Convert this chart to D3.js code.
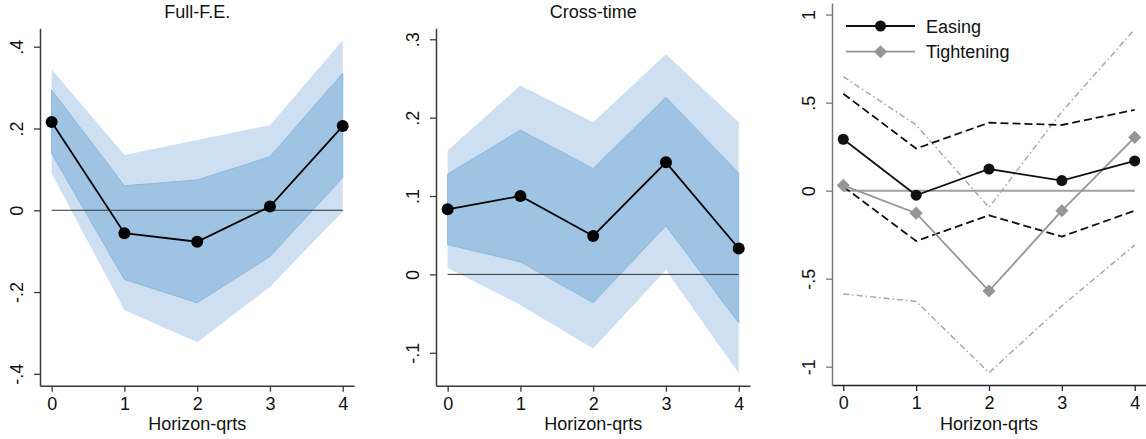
<!DOCTYPE html>
<html>
<head>
<meta charset="utf-8">
<script src="https://cdn.jsdelivr.net/npm/d3@7"></script>
<style>
  html, body { margin: 0; padding: 0; background: #fff; }
  svg { display: block; font-family: Arial, "Liberation Sans", sans-serif; }
</style>
</head>
<body>
<svg id="chart" width="1146" height="439"></svg>
<script>
// ---- data ----
const horizons = [0, 1, 2, 3, 4];
const xTickLabels = ["0", "1", "2", "3", "4"];

// Panel 1: Full-F.E.
const feCoef    = [0.216, -0.056, -0.077, 0.009, 0.206];
const feInnerHi = [0.294, 0.060, 0.074, 0.131, 0.335];
const feInnerLo = [0.139, -0.169, -0.226, -0.113, 0.080];
const feOuterHi = [0.345, 0.135, 0.172, 0.208, 0.416];
const feOuterLo = [0.090, -0.244, -0.323, -0.187, -0.003];
const feYTicks = [-0.4, -0.2, 0, 0.2, 0.4];
const feYLabels = ["-.4", "-.2", "0", ".2", ".4"];

// Panel 2: Cross-time
const ctCoef    = [0.083, 0.100, 0.049, 0.143, 0.033];
const ctInnerHi = [0.128, 0.184, 0.135, 0.226, 0.129];
const ctInnerLo = [0.038, 0.016, -0.036, 0.062, -0.062];
const ctOuterHi = [0.158, 0.241, 0.194, 0.281, 0.194];
const ctOuterLo = [0.0085, -0.039, -0.0945, 0.0055, -0.126];
const ctYTicks = [-0.1, 0, 0.1, 0.2, 0.3];
const ctYLabels = ["-.1", "0", ".1", ".2", ".3"];

// Panel 3: Easing vs Tightening
const easeCoef  = [0.292, -0.026, 0.123, 0.057, 0.169];
const easeHi    = [0.551, 0.239, 0.386, 0.373, 0.459];
const easeLo    = [0.023, -0.286, -0.140, -0.261, -0.114];
const tightCoef = [0.030, -0.128, -0.570, -0.114, 0.303];
const tightHi   = [0.648, 0.373, -0.095, 0.449, 0.917];
const tightLo   = [-0.587, -0.629, -1.034, -0.655, -0.309];
const asymYTicks = [-1, -0.5, 0, 0.5, 1];
const asymYLabels = ["-1", "-.5", "0", ".5", "1"];
const legendLabels = ["Easing", "Tightening"];

const titles = ["Full-F.E.", "Cross-time"];
const xTitle = "Horizon-qrts";

// ---- drawing ----
const svg = d3.select("#chart");
const LIGHT = "#cddff0", DARK = "#9fc3e3", DARKLINE = "#8cb8de";
const TICKFS = 18;

function makeAxes(g, xs, ys, yTicks, yLabels, opts) {
  const xAxis = d3.axisBottom(xs).tickValues(horizons)
    .tickFormat((d, i) => xTickLabels[i]).tickSizeInner(6).tickSizeOuter(0);
  const gx = g.append("g").attr("transform", `translate(0,${ys.range()[0]})`).call(xAxis)
    .attr("font-size", TICKFS).attr("font-family", "Arial, 'Liberation Sans', sans-serif");
  gx.select(".domain").attr("stroke", opts.xColor).attr("stroke-width", 1.5);
  gx.selectAll(".tick line").attr("stroke", opts.xColor).attr("stroke-width", 1.3);
  gx.selectAll(".tick text").attr("fill", "#111").attr("y", 11).attr("dy", "0.72em");

  const yAxis = d3.axisLeft(ys).tickValues(yTicks)
    .tickFormat((d, i) => yLabels[i]).tickSizeInner(6).tickSizeOuter(0);
  const x0 = xs.range()[0];
  const gy = g.append("g").attr("transform", `translate(${x0},0)`).call(yAxis)
    .attr("font-size", TICKFS).attr("font-family", "Arial, 'Liberation Sans', sans-serif");
  gy.select(".domain").attr("stroke", opts.yColor).attr("stroke-width", 1.5);
  gy.selectAll(".tick line").attr("stroke", opts.yColor).attr("stroke-width", 1.3);
  gy.selectAll(".tick text")
    .attr("fill", "#111")
    .attr("text-anchor", "middle")
    .attr("x", null).attr("dy", null)
    .attr("transform", "translate(-17.5,0) rotate(-90)");

  g.append("text").attr("x", xs(2)).attr("y", 430)
    .attr("text-anchor", "middle").attr("font-size", 18).attr("fill", "#111").text(xTitle);
}

function bandPanel(x0, x1, yDom, yTicks, yLabels, coef, iHi, iLo, oHi, oLo, title) {
  const xs = d3.scaleLinear().domain([-0.16, 4.155]).range([x0, x1]);
  const ys = d3.scaleLinear().domain(yDom).range([385.7, 28.3]);
  const g = svg.append("g");
  const area = (hi, lo) => d3.area().x((d, i) => xs(horizons[i]))
    .y0((d, i) => ys(lo[i])).y1((d, i) => ys(hi[i]))(horizons);
  g.append("path").attr("d", area(oHi, oLo)).attr("fill", LIGHT);
  g.append("path").attr("d", area(iHi, iLo)).attr("fill", DARK)
    .attr("stroke", DARKLINE).attr("stroke-width", 1);
  g.append("line").attr("x1", xs(0)).attr("x2", xs(4)).attr("y1", ys(0)).attr("y2", ys(0))
    .attr("stroke", "#333").attr("stroke-width", 1);
  const line = d3.line().x((d, i) => xs(horizons[i])).y(d => ys(d));
  g.append("path").attr("d", line(coef)).attr("fill", "none")
    .attr("stroke", "#000").attr("stroke-width", 1.8);
  g.selectAll("circle.pt").data(coef).join("circle")
    .attr("cx", (d, i) => xs(horizons[i])).attr("cy", d => ys(d)).attr("r", 6).attr("fill", "#000");
  makeAxes(g, xs, ys, yTicks, yLabels, { xColor: "#3a3a3a", yColor: "#3a3a3a" });
  g.append("text").attr("x", xs(2)).attr("y", 18.3).attr("text-anchor", "middle")
    .attr("font-size", 18).attr("fill", "#111").text(title);
}

bandPanel(40, 354, [-0.429, 0.445], feYTicks, feYLabels,
  feCoef, feInnerHi, feInnerLo, feOuterHi, feOuterLo, titles[0]);
bandPanel(436, 750, [-0.142, 0.314], ctYTicks, ctYLabels,
  ctCoef, ctInnerHi, ctInnerLo, ctOuterHi, ctOuterLo, titles[1]);

// Panel 3
(function () {
  const xs = d3.scaleLinear().domain([-0.155, 4.155]).range([832, 1146]);
  const ys = d3.scaleLinear().domain([-1.104, 1.066]).range([385, 3]);
  const g = svg.append("g");
  const line = d3.line().x((d, i) => xs(horizons[i])).y(d => ys(d));
  const GRAY = "#959595";
  g.append("line").attr("x1", xs(0)).attr("x2", xs(4)).attr("y1", ys(0)).attr("y2", ys(0))
    .attr("stroke", "#a0a0a0").attr("stroke-width", 2);
  [tightHi, tightLo].forEach(arr => g.append("path").attr("d", line(arr)).attr("fill", "none")
    .attr("stroke", "#a8a8a8").attr("stroke-width", 1.5).attr("stroke-dasharray", "6,3,1.5,3"));
  [easeHi, easeLo].forEach(arr => g.append("path").attr("d", line(arr)).attr("fill", "none")
    .attr("stroke", "#111").attr("stroke-width", 1.8).attr("stroke-dasharray", "8,4"));
  g.append("path").attr("d", line(tightCoef)).attr("fill", "none")
    .attr("stroke", GRAY).attr("stroke-width", 1.8);
  const diamond = d3.symbol().type(d3.symbolDiamond2).size(110);
  g.selectAll("path.tpt").data(tightCoef).join("path").attr("class", "tpt")
    .attr("d", diamond)
    .attr("transform", (d, i) => `translate(${xs(horizons[i])},${ys(d)})`)
    .attr("fill", GRAY);
  g.append("path").attr("d", line(easeCoef)).attr("fill", "none")
    .attr("stroke", "#111").attr("stroke-width", 1.8);
  g.selectAll("circle.ept").data(easeCoef).join("circle").attr("class", "ept")
    .attr("cx", (d, i) => xs(horizons[i])).attr("cy", d => ys(d)).attr("r", 5.5).attr("fill", "#111");

  makeAxes(g, xs, ys, asymYTicks, asymYLabels, { xColor: "#222", yColor: "#7a7a7a" });

  const lg = g.append("g");
  const rows = [
    { y: 26, color: "#111", marker: "circle" },
    { y: 51.7, color: GRAY, marker: "diamond" }
  ];
  rows.forEach((r, i) => {
    lg.append("line").attr("x1", 846).attr("x2", 915).attr("y1", r.y).attr("y2", r.y)
      .attr("stroke", r.color).attr("stroke-width", 1.8);
    if (r.marker === "circle") {
      lg.append("circle").attr("cx", 880.5).attr("cy", r.y).attr("r", 5.5).attr("fill", r.color);
    } else {
      lg.append("path").attr("d", diamond).attr("transform", `translate(880.5,${r.y})`).attr("fill", r.color);
    }
    lg.append("text").attr("x", 926).attr("y", r.y + 6.5).attr("font-size", 18)
      .attr("fill", "#111").text(legendLabels[i]);
  });
})();
</script>
</body>
</html>
